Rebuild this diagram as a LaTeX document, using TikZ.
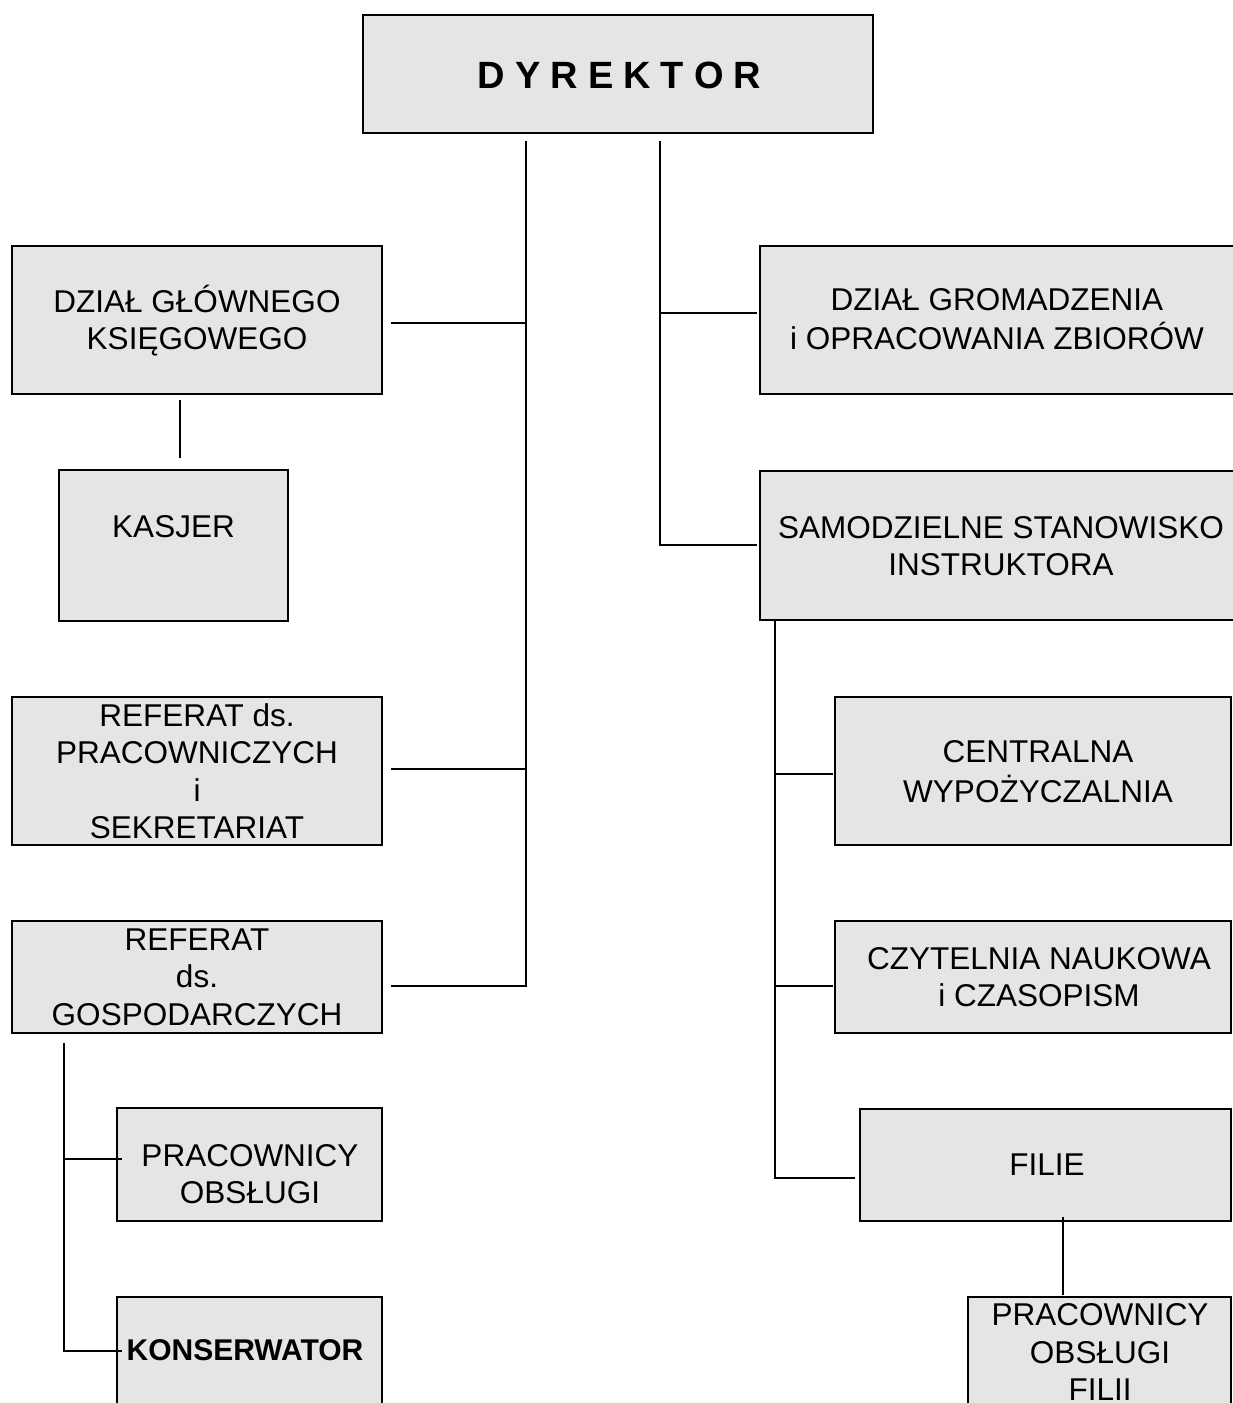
\documentclass[tikz,border=0pt]{standalone}
\usepackage{fontspec}
\setmainfont{Liberation Sans}
\definecolor{boxgray}{RGB}{229,229,229}
\begin{document}
\begin{tikzpicture}[x=1pt,y=-1pt,
  box/.style={draw=black, line width=2.6pt, fill=boxgray, inner sep=0pt},
  txt/.style={align=center, inner sep=0pt, font=\fontsize{31.5}{37.5}\selectfont},
  btxt/.style={align=center, inner sep=0pt, font=\bfseries\fontsize{30}{36}\selectfont},
  conn/.style={draw=black, line width=2pt}]
\useasboundingbox (0,0) rectangle (1233,1403);
\fill[white] (0,0) rectangle (1233,1403);
% boxes
\node[box, minimum width=510pt, minimum height=118pt] (dyr) at (618,74) {};
\node[box, minimum width=370pt, minimum height=148pt] (dgk) at (197,320) {};
\node[box, minimum width=229pt, minimum height=151pt] (kas) at (173.5,545.5) {};
\node[box, minimum width=370pt, minimum height=148pt] (rp) at (197,771) {};
\node[box, minimum width=370pt, minimum height=112pt] (rg) at (197,977) {};
\node[box, minimum width=265pt, minimum height=113pt] (po) at (249.5,1164.5) {};
\node[box, minimum width=265pt, minimum height=153pt] (kon) at (249.5,1373.5) {};
\node[box, minimum width=490pt, minimum height=148pt] (dg) at (1005,320) {};
\node[box, minimum width=490pt, minimum height=149pt] (ss) at (1005,545.5) {};
\node[box, minimum width=396pt, minimum height=148pt] (cw) at (1033,771) {};
\node[box, minimum width=396pt, minimum height=112pt] (cn) at (1033,977) {};
\node[box, minimum width=371pt, minimum height=112pt] (fi) at (1045.5,1165) {};
\node[box, minimum width=263pt, minimum height=153pt] (pof) at (1099.5,1373.5) {};
% texts
\node[inner sep=0pt, font=\bfseries\fontsize{38}{44}\selectfont] (dyrt) at (619.5,75)
  {D\kern10pt Y\kern10pt R\kern10pt E\kern10pt K\kern10pt T\kern10pt O\kern10pt R};
\node[txt] (dgkt) at (197,322.8) {\strut DZIAŁ GŁÓWNEGO\\\strut KSIĘGOWEGO};
\node[txt] (kast) at (173.5,527) {KASJER};
\node[txt] (rpt) at (197,774.8) {\strut REFERAT ds.\\\strut PRACOWNICZYCH\\\strut i\\\strut SEKRETARIAT};
\node[txt] (rgt) at (197,980.3) {\strut REFERAT\\\strut ds.\\\strut GOSPODARCZYCH};
\node[txt] (pot) at (250,1177.3) {\strut PRACOWNICY\\\strut OBSŁUGI};
\node[btxt] (kont) at (245,1350) {KONSERWATOR};
\node[txt] (dgt) at (997,322.3) {\strut DZIAŁ GROMADZENIA\\\strut i OPRACOWANIA ZBIORÓW};
\node[txt] (sst) at (1001,549.3) {\strut SAMODZIELNE STANOWISKO\\\strut INSTRUKTORA};
\node[txt] (cwt) at (1038,774.8) {\strut CENTRALNA\\\strut WYPOŻYCZALNIA};
\node[txt] (cnt) at (1039,980.3) {\strut CZYTELNIA NAUKOWA\\\strut i CZASOPISM};
\node[txt] (fit) at (1047,1165) {FILIE};
\node[txt] (poft) at (1100,1355.5) {\strut PRACOWNICY\\\strut OBSŁUGI\\\strut FILII};
% junction coordinates
\coordinate (L0) at (526,141);
\coordinate (L1) at (526,323);
\coordinate (L2) at (526,769);
\coordinate (L3) at (526,986);
\coordinate (a1) at (391,323);
\coordinate (a2) at (391,769);
\coordinate (a3) at (391,986);
\coordinate (R0) at (660,141);
\coordinate (R1) at (660,313);
\coordinate (R2) at (660,545);
\coordinate (b1) at (757,313);
\coordinate (b2) at (757,545);
\coordinate (S0) at (775,620);
\coordinate (S1) at (775,774);
\coordinate (S2) at (775,986);
\coordinate (S3) at (775,1178);
\coordinate (c1) at (833,774);
\coordinate (c2) at (833,986);
\coordinate (c3) at (855,1178);
\coordinate (G0) at (64,1043);
\coordinate (G1) at (64,1159);
\coordinate (G2) at (64,1351);
\coordinate (g1) at (122,1159);
\coordinate (g2) at (122,1351);
\coordinate (k0) at (180,400);
\coordinate (k1) at (180,458);
\coordinate (f0) at (1063,1217);
\coordinate (f1) at (1063,1295);
% connectors
\draw[conn] (L0) -- (L3) -- (a3);
\draw[conn] (a1) -- (L1);
\draw[conn] (a2) -- (L2);
\draw[conn] (k0) -- (k1);
\draw[conn] (R0) -- (R2) -- (b2);
\draw[conn] (R1) -- (b1);
\draw[conn] (S0) -- (S3) -- (c3);
\draw[conn] (S1) -- (c1);
\draw[conn] (S2) -- (c2);
\draw[conn] (G0) -- (G2) -- (g2);
\draw[conn] (G1) -- (g1);
\draw[conn] (f0) -- (f1);
\end{tikzpicture}
\end{document}
